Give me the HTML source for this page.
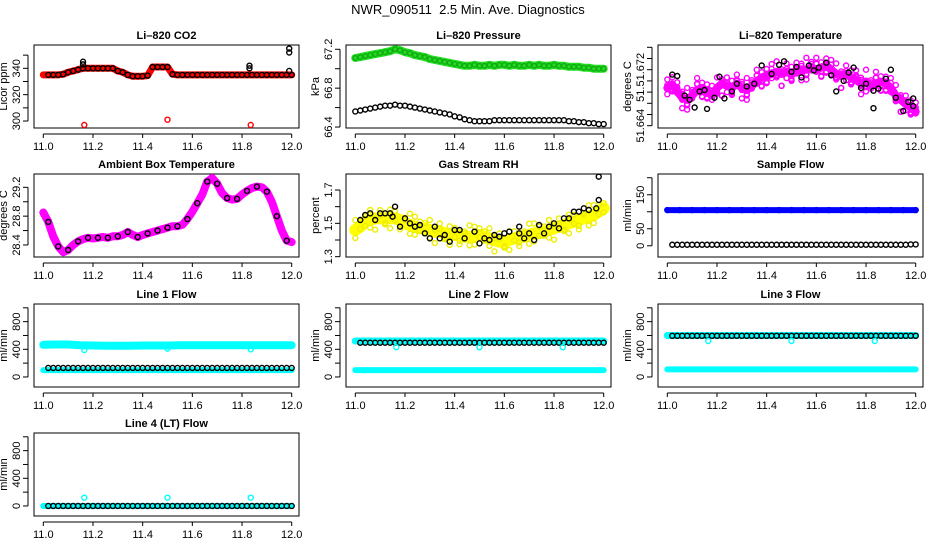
<!DOCTYPE html>
<html><head><meta charset="utf-8"><style>
html,body{margin:0;padding:0;background:#fff;}
svg{display:block;font-family:"Liberation Sans",Arial,sans-serif;}
</style></head><body>
<svg id="chart" width="936" height="540" viewBox="0 0 936 540">
<text x="468" y="14" text-anchor="middle" font-size="13">NWR_090511&#160; 2.5 Min. Ave. Diagnostics</text>
</svg>
<script>
const T = [11.00,11.02,11.04,11.06,11.08,11.10,11.12,11.14,11.16,11.18,11.20,11.22,11.24,11.26,11.28,11.30,11.32,11.34,11.36,11.38,11.40,11.42,11.44,11.46,11.48,11.50,11.52,11.54,11.56,11.58,11.60,11.62,11.64,11.66,11.68,11.70,11.72,11.74,11.76,11.78,11.80,11.82,11.84,11.86,11.88,11.90,11.92,11.94,11.96,11.98,12.00];
const TF = [11.00,11.05,11.10,11.15,11.20,11.25,11.30,11.35,11.40,11.45,11.50,11.55,11.60,11.65,11.70,11.75,11.80,11.85,11.90,11.95,12.00];
const xTicks = [11.0,11.2,11.4,11.6,11.8,12.0];
const xTickLabels = ["11.0","11.2","11.4","11.6","11.8","12.0"];

const co2Red = [335,335,335,335,335.5,337,338,339,340,340,340,340,340,340,340,338,337,335,334,334,334,334.5,341,341,341,341,335.5,335,335,335,335,335,335,335,335,335,335,335,335,335,335,335,335,335,335,335,335,335,335,335,335];
const co2Black = [335,335,335,335,335.5,337,338,339,340,340,340,340,340,340,340,338,337,335,334,334,334,334.5,341,341,341,341,335.5,335,335,335,335,335,335,335,335,335,335,335,335,335,335,335,335,335,335,335,335,335,335,335,335];
const co2RedOutT = [11.165,11.5,11.835];
const co2RedOutV = [297,301,297];
const co2BlackOutT = [11.16,11.16,11.83,11.83,11.99,11.99,11.99];
const co2BlackOutV = [343,345,340,342,338,352,355];

const presGreen = [67.11,67.12,67.13,67.14,67.15,67.16,67.17,67.18,67.2,67.19,67.17,67.16,67.14,67.13,67.12,67.1,67.09,67.08,67.07,67.06,67.05,67.04,67.03,67.03,67.04,67.03,67.03,67.04,67.03,67.04,67.04,67.03,67.04,67.03,67.03,67.04,67.03,67.04,67.03,67.03,67.04,67.03,67.03,67.02,67.02,67.02,67.01,67.01,67.0,67.0,67.0];
const presBlack = [66.56,66.57,66.58,66.59,66.6,66.61,66.62,66.62,66.63,66.62,66.62,66.61,66.6,66.59,66.58,66.57,66.56,66.55,66.54,66.53,66.51,66.5,66.48,66.47,66.46,66.46,66.46,66.46,66.47,66.47,66.47,66.47,66.47,66.47,66.47,66.47,66.47,66.47,66.47,66.47,66.47,66.47,66.47,66.46,66.46,66.45,66.45,66.44,66.44,66.43,66.43];

const tempMag = [51.6694,51.6699,51.6689,51.6680,51.6677,51.6683,51.6691,51.6694,51.6689,51.6683,51.6694,51.6700,51.6697,51.6694,51.6700,51.6694,51.6691,51.6697,51.6703,51.6709,51.6711,51.6714,51.6717,51.6714,51.6717,51.6714,51.6717,51.6720,51.6720,51.6723,51.6720,51.6723,51.6726,51.6720,51.6714,51.6711,51.6714,51.6709,51.6706,51.6700,51.6703,51.6697,51.6700,51.6703,51.6700,51.6694,51.6683,51.6677,51.6671,51.6666,51.6660];
const tempJitter = [0.0012,-0.0010,0.0006,-0.0015,0.0017,-0.0004,0.0009,-0.0013,0.0003,0.0014,-0.0008,-0.0017];
const tempBlackT = [11.02,11.04,11.07,11.09,11.11,11.13,11.15,11.16,11.19,11.21,11.23,11.26,11.28,11.32,11.35,11.38,11.42,11.45,11.47,11.50,11.52,11.54,11.57,11.59,11.61,11.64,11.66,11.68,11.71,11.73,11.75,11.78,11.80,11.83,11.83,11.85,11.88,11.90,11.92,11.95,11.97,11.99,11.99];
const tempBlackV = [51.6713,51.6711,51.6683,51.6677,51.6666,51.6689,51.6691,51.6664,51.6680,51.6710,51.6679,51.6689,51.6700,51.6696,51.6700,51.6726,51.6714,51.6727,51.6732,51.6717,51.6724,51.6709,51.6726,51.6719,51.6723,51.6730,51.6712,51.6689,51.6704,51.6716,51.6723,51.6694,51.6700,51.6665,51.6690,51.6693,51.6707,51.6720,51.6680,51.6661,51.6674,51.6679,51.6668];

const ambient = [28.85,28.72,28.52,28.38,28.3,28.33,28.4,28.45,28.48,28.5,28.49,28.5,28.51,28.5,28.52,28.52,28.54,28.58,28.54,28.51,28.54,28.56,28.58,28.6,28.62,28.64,28.66,28.66,28.68,28.76,28.86,28.98,29.1,29.28,29.33,29.25,29.12,29.05,29.03,29.04,29.1,29.15,29.19,29.21,29.2,29.14,29.0,28.8,28.6,28.46,28.44];

const rhYellow = [1.46,1.48,1.51,1.52,1.53,1.53,1.53,1.53,1.53,1.52,1.5,1.49,1.48,1.47,1.47,1.46,1.45,1.45,1.44,1.43,1.43,1.43,1.42,1.42,1.42,1.43,1.42,1.41,1.4,1.39,1.39,1.4,1.41,1.42,1.42,1.43,1.44,1.44,1.45,1.46,1.47,1.48,1.49,1.5,1.51,1.52,1.53,1.54,1.55,1.57,1.59];
const rhBlackT = [11.02,11.04,11.06,11.08,11.10,11.12,11.14,11.15,11.16,11.18,11.2,11.22,11.24,11.26,11.28,11.30,11.32,11.34,11.36,11.38,11.40,11.42,11.44,11.48,11.5,11.52,11.54,11.56,11.58,11.60,11.62,11.66,11.66,11.68,11.70,11.72,11.74,11.76,11.78,11.80,11.82,11.84,11.86,11.88,11.90,11.92,11.94,11.97,11.98,11.98];
const rhBlackV = [1.52,1.55,1.56,1.52,1.56,1.56,1.56,1.54,1.6,1.48,1.53,1.5,1.48,1.49,1.44,1.41,1.48,1.41,1.43,1.39,1.46,1.46,1.41,1.45,1.38,1.41,1.4,1.43,1.42,1.44,1.45,1.48,1.44,1.41,1.44,1.4,1.49,1.44,1.48,1.5,1.47,1.53,1.53,1.57,1.57,1.59,1.58,1.59,1.64,1.78];

const sampleBlue = [105,105,105,105,105,105,105,105,105,105,105,105,105,105,105,105,105,105,105,105,105];
const sampleBlack = [3,3,3,3,3,3,3,3,3,3,3,3,3,3,3,3,3,3,3,3,4];

const l1CyanUp = [465,470,470,460,455,450,450,450,455,455,455,460,460,460,460,460,460,460,460,460,460];
const l1CyanLow = [100,100,100,100,100,100,100,100,100,100,100,100,100,100,100,100,100,100,100,100,100];
const l1Black = [130,130,130,130,130,130,130,130,130,130,130,130,130,130,130,130,130,130,130,130,130];
const l2CyanUp = [520,520,520,520,520,520,520,520,520,520,520,520,520,520,520,520,520,520,520,520,520];
const l2CyanLow = [100,100,100,100,100,100,100,100,100,100,100,100,100,100,100,100,100,100,100,100,100];
const l2Black = [495,495,495,495,495,495,495,495,495,495,495,495,495,495,495,495,495,495,495,495,495];
const l3CyanUp = [600,600,600,600,600,600,600,600,600,600,600,600,600,600,600,600,600,600,600,600,600];
const l3CyanLow = [110,110,110,110,110,110,110,110,110,110,110,110,110,110,110,110,110,110,110,110,110];
const l3Black = [595,595,595,595,595,595,595,595,595,595,595,595,595,595,595,595,595,595,595,595,595];
const l4Cyan = [0,0,0,0,0,0,0,0,0,0,0,0,0,0,0,0,0,0,0,0,0];
const l4Black = [0,0,0,0,0,0,0,0,0,0,0,0,0,0,0,0,0,0,0,0,0];
const dipT = [11.165,11.5,11.835];
const l1Dip = [390,410,400];
const l2Dip = [430,430,430];
const l3Dip = [520,520,520];
const l4Spike = [120,120,120];

const NS = "http://www.w3.org/2000/svg";
const svg = document.getElementById('chart');
function mk(tag, attrs, parent){ const e=document.createElementNS(NS,tag); for(const k in attrs) e.setAttribute(k,attrs[k]); (parent||svg).appendChild(e); return e; }
const TOPS=[45,174,304,433];

function panel(c,r,key,title,ylab,dom,ticks,labels){
  const g=mk('g',{});
  
  
  const L=34+312*c, R=299+312*c, top=TOPS[r], B=top+83;
  const x0=43.3+312*c, x1=291.7+312*c;
  const xs=v=>x0+(v-11)*(x1-x0);
  const ys=v=>B-(v-dom[0])/(dom[1]-dom[0])*(B-top);
  const t=mk('text',{x:(L+R)/2,y:top-6,'text-anchor':'middle','font-size':11,'font-weight':'bold'},g);
  t.textContent=title;
  
  
  const box=mk('rect',{x:L,y:top,width:R-L,height:B-top,fill:'none',stroke:'#000','stroke-width':1},g);
  
  
  const xa=mk('g',{},g);
  
  
  mk('line',{x1:xs(xTicks[0]),x2:xs(xTicks[xTicks.length-1]),y1:B+6,y2:B+6,stroke:'#000'},xa);
  xTicks.forEach((v,i)=>{
    mk('line',{x1:xs(v),x2:xs(v),y1:B+6,y2:B+10,stroke:'#000'},xa);
    const tl=mk('text',{x:xs(v),y:B+22,'text-anchor':'middle','font-size':11},xa);
    tl.textContent=xTickLabels[i];
  });
  const ya=mk('g',{},g);
  
  
  mk('line',{x1:L-6,x2:L-6,y1:ys(ticks[0]),y2:ys(ticks[ticks.length-1]),stroke:'#000'},ya);
  ticks.forEach(v=>{ mk('line',{x1:L-11,x2:L-6,y1:ys(v),y2:ys(v),stroke:'#000'},ya); });
  labels.forEach(lb=>{
    const yy=ys(lb[0]);
    const tl=mk('text',{x:L-14,y:yy,'text-anchor':'middle','font-size':11,transform:`rotate(-90 ${L-14} ${yy})`},ya);
    tl.textContent=lb[1];
  });
  const yl=mk('text',{x:L-27,y:(top+B)/2,'text-anchor':'middle','font-size':11,transform:`rotate(-90 ${L-27} ${(top+B)/2})`},g);
  yl.textContent=ylab;
  
  
  return {g,xs,ys};
}
function band(p,name,ts,vs,color,w){
  const pts=ts.map((t,i)=>p.xs(t).toFixed(1)+','+p.ys(vs[i]).toFixed(1)).join(' ');
  const pl=mk('polyline',{points:pts,fill:'none',stroke:color,'stroke-width':w,'stroke-linejoin':'round','stroke-linecap':'round'},p.g);
  
  
}
function pts(p,name,ts,vs,color,r){
  const g=mk('g',{},p.g);
  
  
  ts.forEach((t,i)=>{ mk('circle',{cx:p.xs(t),cy:p.ys(vs[i]),r:r||2.5,fill:'none',stroke:color,'stroke-width':1.4},g); });
}

// CO2
let p=panel(0,0,'co2','Li\u2013820 CO2','Licor ppm',[294.7,357.7],[300,310,320,330,340,350],[[300,'300'],[320,'320'],[340,'340']]);
band(p,'co2-red-band',T,co2Red,'#ff0000',7);
pts(p,'co2-red-points',T,co2Red,'#ff0000');
pts(p,'co2-black-points',T.slice(1),co2Black.slice(1),'#000');
pts(p,'co2-red-outliers',co2RedOutT,co2RedOutV,'#ff0000');
pts(p,'co2-black-outliers',co2BlackOutT,co2BlackOutV,'#000');

// Pressure
p=panel(1,0,'pressure','Li\u2013820 Pressure','kPa',[66.39,67.244],[66.4,66.6,66.8,67.0,67.2],[[66.4,'66.4'],[66.8,'66.8'],[67.2,'67.2']]);
band(p,'pressure-green-band',T,presGreen,'#22dd22',8);
pts(p,'pressure-green-points',T,presGreen,'#11aa11',2.3);
pts(p,'pressure-black-points',T,presBlack,'#000');

// Temperature
p=panel(2,0,'li820-temp','Li\u2013820 Temperature','degrees C',[51.66367,51.67553],[51.664,51.6656,51.6672,51.6688,51.6704,51.672,51.6736,51.6752],[[51.664,'51.664'],[51.6685,'51.'],[51.672,'51.672']]);
band(p,'temp-magenta-band',T,tempMag,'#ff00ff',8);
pts(p,'temp-magenta-points',T,tempMag.map((v,i)=>v+tempJitter[i%tempJitter.length]),'#ff00ff');
pts(p,'temp-magenta-points-2',T,tempMag.map((v,i)=>v-tempJitter[(i+5)%tempJitter.length]),'#ff00ff');
pts(p,'temp-magenta-points-3',T,tempMag.map((v,i)=>v+tempJitter[(i+3)%tempJitter.length]*0.6),'#ff00ff');
pts(p,'temp-magenta-points-4',T,tempMag.map((v,i)=>v-tempJitter[(i+8)%tempJitter.length]*0.5),'#ff00ff');
pts(p,'temp-black-points',tempBlackT,tempBlackV,'#000');

// Ambient
p=panel(0,1,'ambient','Ambient Box Temperature','degrees C',[28.233,29.385],[28.4,28.6,28.8,29.0,29.2],[[28.4,'28.4'],[28.8,'28.8'],[29.2,'29.2']]);
band(p,'ambient-magenta-band',T,ambient,'#ff00ff',8);
pts(p,'ambient-black-points',T.filter((t,i)=>i%2===1),ambient.filter((t,i)=>i%2===1),'#000');

// RH
p=panel(1,1,'rh','Gas Stream RH','percent',[1.298,1.796],[1.3,1.4,1.5,1.6,1.7],[[1.3,'1.3'],[1.5,'1.5'],[1.7,'1.7']]);
band(p,'rh-yellow-band',T,rhYellow,'#ffff00',12);
pts(p,'rh-yellow-points',T,rhYellow.map((v,i)=>v-tempJitter[i%tempJitter.length]*40),'#eeee00');
pts(p,'rh-yellow-points-2',T,rhYellow.map((v,i)=>v+tempJitter[(i+4)%tempJitter.length]*35),'#eeee00');
pts(p,'rh-black-points',rhBlackT,rhBlackV,'#000');

// Sample flow
p=panel(2,1,'sample-flow','Sample Flow','ml/min',[-33,211],[0,50,100,150,200],[[0,'0'],[50,'50'],[150,'150']]);
band(p,'sample-blue-band',TF,sampleBlue,'#0000ff',6);
pts(p,'sample-blue-points',TF,sampleBlue,'#0000ff');
pts(p,'sample-black-points',T.slice(1),T.slice(1).map(t=>sampleBlack[Math.round((t-11)*20)]),'#000');

const fTicks=[0,200,400,600,800,1000], fLab=[[0,'0'],[400,'400'],[800,'800']];
function flow(c,r,key,title,up,low,blk,dip,upColorWidth){
  const p=panel(c,r,key,title,'ml/min',[-145,1055],fTicks,fLab);
  band(p,key+'-cyan-low-band',TF,low,'#00ffff',6);
  band(p,key+'-cyan-up-band',TF,up,'#00ffff',upColorWidth);
  pts(p,key+'-black-points',T.slice(1),T.slice(1).map(t=>blk[Math.round((t-11)*20)]),'#000');
  pts(p,key+'-cyan-dips',dipT,dip,'#00ffff');
}
flow(0,2,'line1','Line 1 Flow',l1CyanUp,l1CyanLow,l1Black,l1Dip,8);
flow(1,2,'line2','Line 2 Flow',l2CyanUp,l2CyanLow,l2Black,l2Dip,7);
flow(2,2,'line3','Line 3 Flow',l3CyanUp,l3CyanLow,l3Black,l3Dip,7);
p=panel(0,3,'line4','Line 4 (LT) Flow','ml/min',[-145,1055],fTicks,fLab);
band(p,'line4-cyan-band',TF,l4Cyan,'#00ffff',6);
pts(p,'line4-black-points',T.slice(1),T.slice(1).map(t=>l4Black[Math.round((t-11)*20)]),'#000');
pts(p,'line4-cyan-spikes',dipT,l4Spike,'#00ffff');
</script>
</body></html>
